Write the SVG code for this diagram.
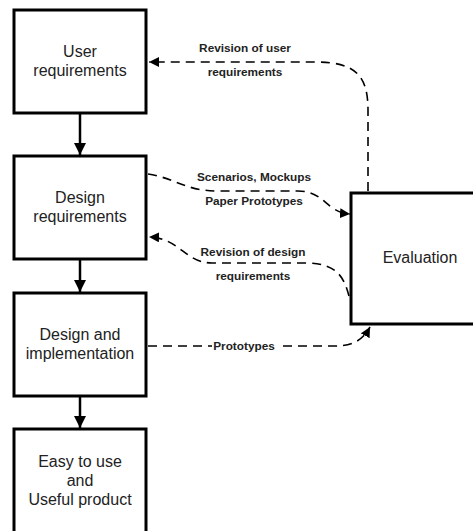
<svg xmlns="http://www.w3.org/2000/svg" width="473" height="531" viewBox="0 0 473 531">
<defs>
<style>
.box{fill:#fff;stroke:#000;stroke-width:3}
.nt{font-family:"Liberation Sans",Arial,sans-serif;font-size:16px;fill:#222;text-anchor:middle}
.lb{font-family:"Liberation Sans",Arial,sans-serif;font-size:11.8px;font-weight:bold;fill:#222;text-anchor:middle}
.solid{fill:none;stroke:#000;stroke-width:2.5}
.dash{fill:none;stroke:#000;stroke-width:1.6;stroke-dasharray:9,6}
</style>
<marker id="ah" viewBox="0 0 10 10" refX="10" refY="5" markerWidth="10" markerHeight="10" markerUnits="userSpaceOnUse" orient="auto">
<path d="M0,0 L10,5 L0,10 Z" fill="#000"/>
</marker>
<marker id="ahs" viewBox="0 0 12 12" refX="12" refY="6" markerWidth="12" markerHeight="12" markerUnits="userSpaceOnUse" orient="auto">
<path d="M0,0 L12,6 L0,12 Z" fill="#000"/>
</marker>
</defs>
<g id="connectors">
<path class="solid" d="M80,113 L80,155" marker-end="url(#ahs)"/>
<path class="solid" d="M80,259 L80,292" marker-end="url(#ahs)"/>
<path class="solid" d="M80,396 L80,428" marker-end="url(#ahs)"/>
<path class="dash" d="M368,191 L368,110 C368,75 355,62 315,62 L149,62" marker-end="url(#ah)"/>
<path class="dash" d="M148,174 C175,178 185,191 218,191 L298,191 C325,191 325,212 350,214" marker-end="url(#ah)"/>
<path class="dash" d="M349,296 C344,278 338,263 305,263 L212,263 C185,263 180,238 149,237" marker-end="url(#ah)"/>
<path class="dash" d="M148,346 L335,346 C355,346 364,338 370,327" marker-end="url(#ah)"/>
<rect x="212" y="337" width="65" height="16" fill="#fff"/>
<text class="lb" x="245" y="52">Revision of user</text>
<text class="lb" x="245" y="76">requirements</text>
<text class="lb" x="254" y="181">Scenarios, Mockups</text>
<text class="lb" x="254" y="205">Paper Prototypes</text>
<text class="lb" x="253" y="256">Revision of design</text>
<text class="lb" x="253" y="280">requirements</text>
<text class="lb" x="244" y="350">Prototypes</text>
</g>
<g id="user-req">
<rect class="box" x="14" y="10" width="132" height="103"/>
<text class="nt" x="80" y="57">User</text>
<text class="nt" x="80" y="76">requirements</text>
</g>
<g id="design-req">
<rect class="box" x="14" y="156" width="132" height="103"/>
<text class="nt" x="80" y="203">Design</text>
<text class="nt" x="80" y="222">requirements</text>
</g>
<g id="design-impl">
<rect class="box" x="14" y="293" width="132" height="103"/>
<text class="nt" x="80" y="340">Design and</text>
<text class="nt" x="80" y="359">implementation</text>
</g>
<g id="product">
<rect class="box" x="14" y="429" width="132" height="108"/>
<text class="nt" x="80" y="467">Easy to use</text>
<text class="nt" x="80" y="486">and</text>
<text class="nt" x="80" y="505">Useful product</text>
</g>
<g id="evaluation">
<rect class="box" x="351" y="193" width="130" height="131"/>
<text class="nt" x="420" y="263">Evaluation</text>
</g>
</svg>
